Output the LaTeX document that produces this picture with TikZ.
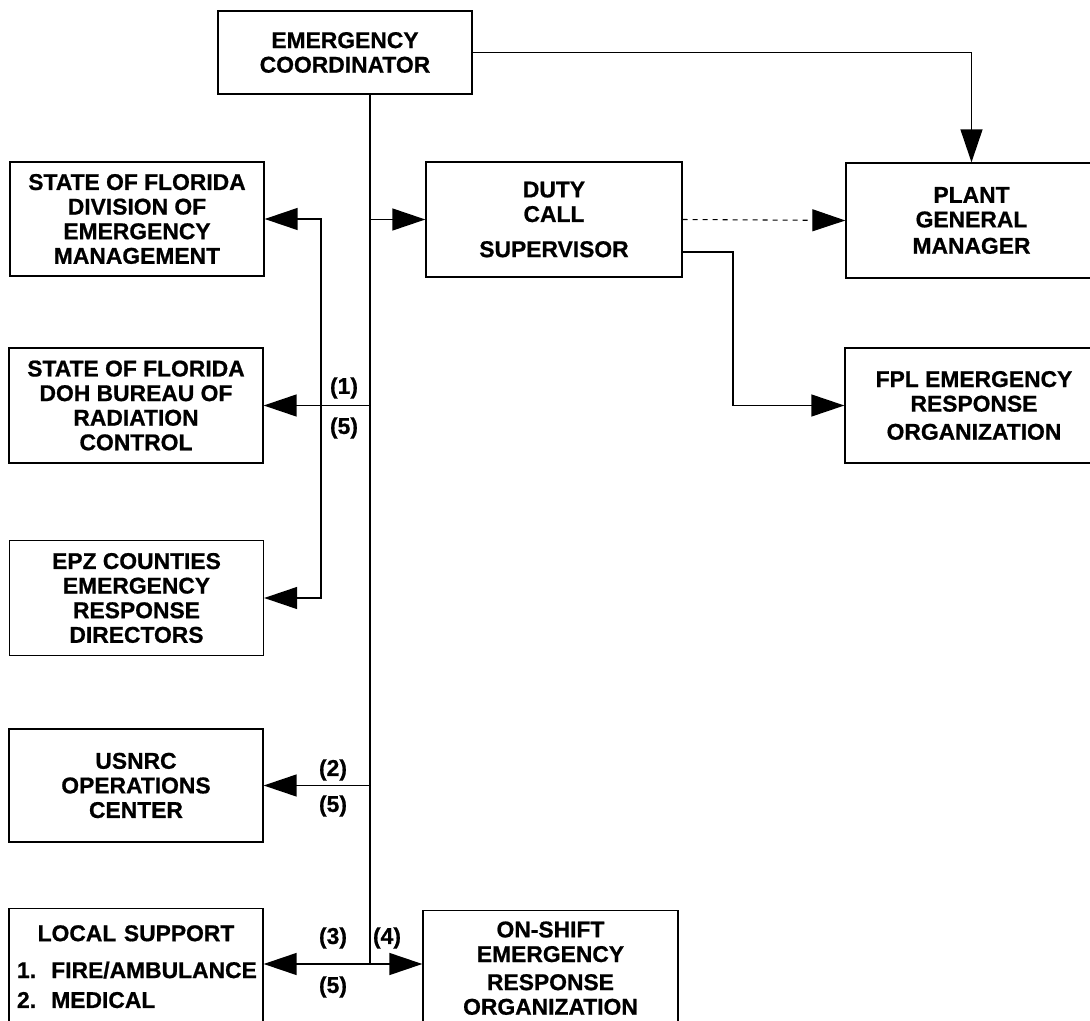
\documentclass[tikz,border=0pt]{standalone}
\usepackage{fontspec}
\setmainfont[FakeBold=0.8]{Liberation Sans}
\usepackage{tikz}
\usetikzlibrary{arrows.meta, calc}
\newcommand{\boxfont}{\fontsize{13pt}{14pt}\selectfont\bfseries}
\tikzset{
  unitbox/.style={draw, line width=0.8pt, minimum width=5.08cm, minimum height=2.3cm,
    align=center, inner sep=2pt, font=\boxfont},
  linkline/.style={line width=0.8pt},
  arr/.style={linkline, -{Triangle[length=0.66cm, width=0.44cm]}},
  biarr/.style={linkline, {Triangle[length=0.66cm, width=0.44cm]}-{Triangle[length=0.66cm, width=0.44cm]}},
  lbl/.style={font=\boxfont, inner sep=0pt}
}

\begin{document}
\begin{tikzpicture}[x=0.02cm, y=-0.02cm]
        \useasboundingbox (0,0) rectangle (1090,1021);
        \clip (0,0) rectangle (1090,1021);

        \node[unitbox, minimum height=1.66cm] (ec) at (345,52.5) {EMERGENCY\\COORDINATOR};

        \node[unitbox, minimum height=2.28cm] (dem) at (137,219) {STATE OF FLORIDA\\DIVISION OF\\EMERGENCY\\MANAGEMENT};
        \node[unitbox] (doh) at (136,405.5) {STATE OF FLORIDA\\DOH BUREAU OF\\RADIATION\\CONTROL};
        \node[unitbox] (epz) at (136.5,598) {EPZ COUNTIES\\EMERGENCY\\RESPONSE\\DIRECTORS};
        \node[unitbox, minimum height=2.26cm] (usnrc) at (136,785.5) {USNRC\\OPERATIONS\\CENTER};
        \node[unitbox, anchor=north, minimum height=2.32cm, text width=4.76cm, align=left, inner xsep=0.16cm] (local) at (136,908)
            {\makebox[\linewidth]{LOCAL SUPPORT}\\[7pt]1.~~FIRE/AMBULANCE\\[3pt]2.~~MEDICAL};

        \node[unitbox, minimum width=5.12cm] (dcs) at (554,219.5) {DUTY\\CALL\\[6pt]SUPERVISOR};
        \node[unitbox, minimum width=5.02cm] (pgm) at (971.5,220.5) {PLANT\\GENERAL\\[1pt]MANAGER};
        \node[unitbox, minimum width=5.16cm] (fpl) at (974,405.5) {FPL EMERGENCY\\RESPONSE\\[2pt]ORGANIZATION};
        \node[unitbox, anchor=north, minimum width=5.1cm] (onshift) at (550.5,910) {ON-SHIFT\\EMERGENCY\\[2pt]RESPONSE\\ORGANIZATION};

        \coordinate (jb) at (370,964);
        \coordinate (bus) at (321,0);
        \coordinate (dcsout) at (682,252);

        \draw[linkline] (jb |- ec.south) -- (jb);
        \draw[arr] (ec.east) -| (pgm.north);
        \draw[arr] (dcs.west -| jb) -- (dcs.west);
        \draw[arr, line width=0.6pt, dash pattern=on 0.1cm off 0.1cm] (dcs.east) -- (pgm.west);
        \draw[arr] (dcsout) -- ++(51,0) |- (fpl.west);

        \draw[biarr] (dem.east) -- (dem.east -| bus) -- (epz.east -| bus) -- (epz.east);
        \draw[arr] (doh.east -| jb) -- (doh.east);
        \draw[arr] (usnrc.east -| jb) -- (usnrc.east);
        \draw[biarr] (jb -| local.east) -- (jb -| onshift.west);

        \node[lbl] (n1) at (344,388) {(1)};
        \node[lbl] (n5a) at (344,428) {(5)};
        \node[lbl] (n2) at (333,770) {(2)};
        \node[lbl] (n5b) at (333,806) {(5)};
        \node[lbl] (n3) at (333,938) {(3)};
        \node[lbl] (n4) at (387,938) {(4)};
        \node[lbl] (n5c) at (333,987) {(5)};
    \end{tikzpicture}
\end{document}
